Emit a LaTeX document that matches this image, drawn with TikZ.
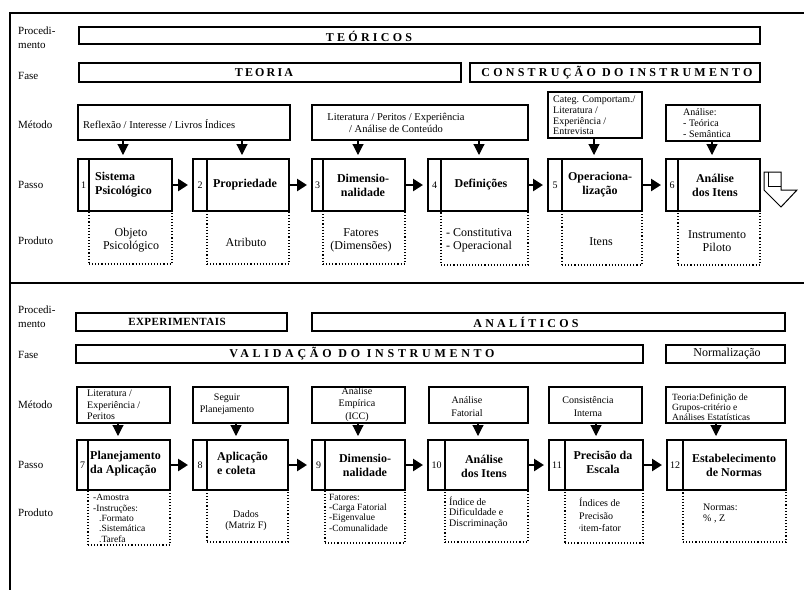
\documentclass[tikz,border=0pt]{standalone}
\usepackage{fontspec}
\setmainfont{Liberation Serif}
\newfontfamily\capsfont[LetterSpace=27]{Liberation Serif}
\newfontfamily\expfont[LetterSpace=4]{Liberation Serif}
\usetikzlibrary{arrows.meta}
\newcommand\bx[7]{\node[#6, anchor=north west, minimum width={(#4-(#2))*1pt}, minimum height={(#5-(#3))*1pt}] (#1) at (#2,#3) {#7};}
\begin{document}
\begin{tikzpicture}[x=1pt,y=-1pt,
  sbox/.style={draw, line width=1.1pt, inner sep=0pt, outer sep=0pt},
  dbox/.style={draw, dotted, line width=1.1pt, inner sep=0pt, outer sep=0pt},
  frame/.style={line width=1.2pt},
  lbl/.style={font=\fontsize{11}{14}\selectfont, align=left, anchor=west, inner sep=0pt},
  mtxt/.style={font=\fontsize{10}{10.8}\selectfont, inner sep=0pt, align=center},
  ptxt/.style={font=\fontsize{12}{14}\selectfont\bfseries, inner sep=0pt, align=center},
  prtxt/.style={font=\fontsize{12}{13}\selectfont, inner sep=0pt, align=center},
  smtxt/.style={font=\fontsize{9.5}{10.3}\selectfont, inner sep=0pt, align=left},
  numtxt/.style={font=\fontsize{10}{12}\selectfont, inner sep=0pt},
  caps/.style={font=\capsfont\fontsize{12}{14}\selectfont\bfseries, inner sep=0pt},
  downarr/.style={-{Triangle[width=11pt,length=11pt]}, line width=1.1pt, shorten >=4pt},
  rightarr/.style={-{Triangle[width=12pt,length=10pt]}, line width=2.5pt, shorten >=5pt}
]
\useasboundingbox (0,0) rectangle (804,590);
\fill[white] (0,0) rectangle (804,590);

% frame
\coordinate (ftl) at (10,13);
\coordinate (ftr) at (804,13);
\coordinate (fbl) at (10,590);
\coordinate (dl) at (10,283);
\coordinate (dr) at (804,283);
\draw[frame] (ftr) -- (ftl) -- (fbl);
\draw[line width=1.6pt] (dl) -- (dr);

% row labels
\node[lbl] (L1) at (18,38) {Procedi-\\mento};
\node[lbl] (L2) at (18,76) {Fase};
\node[lbl] (L3) at (18,125) {Método};
\node[lbl] (L4) at (18,185) {Passo};
\node[lbl] (L5) at (18,241) {Produto};
\node[lbl] (L6) at (18,317) {Procedi-\\mento};
\node[lbl] (L7) at (18,355) {Fase};
\node[lbl] (L8) at (18,405) {Método};
\node[lbl] (L9) at (18,465) {Passo};
\node[lbl] (L10) at (18,513) {Produto};

% ---------------- top section ----------------
\bx{proc1}{79}{27}{760}{44}{sbox}{}
\node[caps] (tproc1) at (369,36) {TEÓRICOS};
\bx{fase1}{79}{63}{461}{82}{sbox}{}
\node[caps, font=\capsfont\fontsize{12}{14}\selectfont\bfseries\addfontfeature{LetterSpace=18}] (tfase1) at (264,72.5) {TEORIA};
\bx{fase2}{470}{63}{760}{82}{sbox}{}
\node[caps] (tfase2) at (617,72.5) {CONSTRUÇÃO DO INSTRUMENTO};

\bx{m1}{78}{105}{290}{140}{sbox}{}
\bx{m2}{312}{105}{528}{140}{sbox}{}
\bx{m3}{548}{92}{642}{138}{sbox}{}
\bx{m4}{666}{105}{760}{141}{sbox}{}
\node[mtxt, anchor=west, font=\fontsize{10.5}{12}\selectfont] (mt1) at (83,124) {Reflexão / Interesse / Livros Índices};
\node[mtxt, font=\fontsize{10.5}{12}\selectfont] (mt2) at (396,123) {Literatura / Peritos / Experiência\\/ Análise de Conteúdo};
\node[mtxt, align=left, anchor=west] (mt3) at (553,115.5) {Categ. Comportam./\\Literatura /\\Experiência /\\Entrevista};
\node[mtxt, align=left, anchor=west] (mt4) at (683,123) {Análise:\\- Teórica\\- Semântica};

% produto top
\bx{r1}{89}{211}{172}{264}{dbox}{}
\bx{r2}{207}{211}{289}{264}{dbox}{}
\bx{r3}{323}{211}{405}{264}{dbox}{}
\bx{r4}{441}{211}{528}{265}{dbox}{}
\bx{r5}{562}{211}{642}{265}{dbox}{}
\bx{r6}{678}{211}{760}{265}{dbox}{}

% passo top
\bx{p1n}{78}{159}{89}{211}{sbox}{}
\bx{p1}{89}{159}{172}{211}{sbox}{}
\bx{p2n}{193}{159}{207}{211}{sbox}{}
\bx{p2}{207}{159}{289}{211}{sbox}{}
\bx{p3n}{312}{159}{323}{211}{sbox}{}
\bx{p3}{323}{159}{405}{211}{sbox}{}
\bx{p4n}{428}{159}{441}{211}{sbox}{}
\bx{p4}{441}{159}{528}{211}{sbox}{}
\bx{p5n}{548}{159}{562}{211}{sbox}{}
\bx{p5}{562}{159}{642}{211}{sbox}{}
\bx{p6n}{666}{159}{678}{211}{sbox}{}
\bx{p6}{678}{159}{760}{211}{sbox}{}

\node[numtxt] at (p1n) {1};
\node[numtxt] at (p2n) {2};
\node[numtxt] at (p3n) {3};
\node[numtxt] at (p4n) {4};
\node[numtxt] at (p5n) {5};
\node[numtxt] at (p6n) {6};

\node[ptxt, align=left, anchor=west] (pt1) at (95,185) {Sistema\\Psicológico};
\node[ptxt] (pt2) at (245,185) {Propriedade};
\node[ptxt] (pt3) at (363,185) {Dimensio-\\nalidade};
\node[ptxt] (pt4) at (481,185) {Definições};
\node[ptxt] (pt5) at (600,185) {Operaciona-\\lização};
\node[ptxt] (pt6) at (715,185) {Análise\\dos Itens};

\node[prtxt] (rt1) at (131,240.5) {Objeto\\Psicológico};
\node[prtxt] (rt2) at (246,242) {Atributo};
\node[prtxt] (rt3) at (361,240.5) {Fatores\\(Dimensões)};
\node[prtxt, align=left, anchor=west] (rt4) at (446,240.5) {- Constitutiva\\- Operacional};
\node[prtxt] (rt5) at (601,242) {Itens};
\node[prtxt] (rt6) at (717,241.5) {Instrumento\\Piloto};

% arrows top
\draw[downarr] (123,0 |- m1.south) -- (123,0 |- p1.north);
\draw[downarr] (242,0 |- m1.south) -- (242,0 |- p2.north);
\draw[downarr] (358,0 |- m2.south) -- (358,0 |- p3.north);
\draw[downarr] (479,0 |- m2.south) -- (479,0 |- p4.north);
\draw[downarr] (594,0 |- m3.south) -- (594,0 |- p5.north);
\draw[downarr] (712,0 |- m4.south) -- (712,0 |- p6.north);
\draw[rightarr] (p1.east) -- (p2n.west);
\draw[rightarr] (p2.east) -- (p3n.west);
\draw[rightarr] (p3.east) -- (p4n.west);
\draw[rightarr] (p4.east) -- (p5n.west);
\draw[rightarr] (p5.east) -- (p6n.west);

% hollow turn arrow
\draw[line width=1pt, line join=miter, fill=white] (764,172) -- (781,172) -- (781,190) -- (797,190) -- (781,207) -- (764,190) -- cycle;
\draw[line width=0.9pt] (768.5,172) -- (768.5,186) -- (781,186);

% ---------------- bottom section ----------------
\bx{proc2a}{76}{313}{287}{331}{sbox}{}
\node[inner sep=0pt, font=\expfont\fontsize{11}{12}\selectfont\bfseries] (tproc2a) at (177,322) {EXPERIMENTAIS};
\bx{proc2b}{312}{313}{785}{331}{sbox}{}
\node[caps] (tproc2b) at (526,322) {ANALÍTICOS};
\bx{fase3}{76}{345}{643}{363}{sbox}{}
\node[caps, font=\capsfont\fontsize{12}{14}\selectfont\bfseries\addfontfeature{LetterSpace=31}] (tfase3) at (362,354) {VALIDAÇÃO DO INSTRUMENTO};
\bx{fase4}{666}{345}{785}{363}{sbox}{}
\node[inner sep=0pt, font=\fontsize{12}{13}\selectfont] (tfase4) at (727,354) {Normalização};

\bx{m7}{77}{387}{170}{423}{sbox}{}
\bx{m8}{193}{387}{288}{423}{sbox}{}
\bx{m9}{312}{387}{405}{423}{sbox}{}
\bx{m10}{429}{387}{528}{423}{sbox}{}
\bx{m11}{549}{387}{642}{423}{sbox}{}
\bx{m12}{666}{387}{785}{423}{sbox}{}
\node[mtxt, align=left, anchor=west, font=\fontsize{10}{11.5}\selectfont] (mt7) at (87,405) {Literatura /\\Experiência /\\Peritos};
\node[mtxt, font=\fontsize{10}{12}\selectfont] (mt8) at (227,404) {Seguir\\Planejamento};
\node[mtxt, font=\fontsize{10}{12.5}\selectfont] (mt9) at (357,404.5) {Análise\\Empírica\\(ICC)};
\node[mtxt, font=\fontsize{10}{12.5}\selectfont] (mt10) at (467,406.5) {Análise\\Fatorial};
\node[mtxt, font=\fontsize{10}{12.5}\selectfont] (mt11) at (588,406.5) {Consistência\\Interna};
\node[mtxt, align=left, anchor=west, font=\fontsize{9.5}{10.3}\selectfont] (mt12) at (672,407) {Teoria:Definição de\\Grupos-critério e\\Análises Estatísticas};

% produto bottom
\bx{r7}{88}{490}{170}{545}{dbox}{}
\bx{r8}{207}{490}{288}{542}{dbox}{}
\bx{r9}{325}{490}{405}{543}{dbox}{}
\bx{r10}{445}{490}{528}{542}{dbox}{}
\bx{r11}{565}{490}{643}{543}{dbox}{}
\bx{r12}{683}{490}{786}{542}{dbox}{}

% passo bottom
\bx{p7n}{77}{440}{88}{490}{sbox}{}
\bx{p7}{88}{440}{170}{490}{sbox}{}
\bx{p8n}{193}{440}{207}{490}{sbox}{}
\bx{p8}{207}{440}{288}{490}{sbox}{}
\bx{p9n}{312}{440}{325}{490}{sbox}{}
\bx{p9}{325}{440}{405}{490}{sbox}{}
\bx{p10n}{428}{440}{445}{490}{sbox}{}
\bx{p10}{445}{440}{528}{490}{sbox}{}
\bx{p11n}{549}{440}{565}{490}{sbox}{}
\bx{p11}{565}{440}{643}{490}{sbox}{}
\bx{p12n}{667}{440}{683}{490}{sbox}{}
\bx{p12}{683}{440}{786}{490}{sbox}{}

\node[numtxt] at (p7n) {7};
\node[numtxt] at (p8n) {8};
\node[numtxt] at (p9n) {9};
\node[numtxt] at (p10n) {10};
\node[numtxt] at (p11n) {11};
\node[numtxt] at (p12n) {12};

\node[ptxt, align=left, anchor=west] (pt7) at (90,463.5) {Planejamento\\da Aplicação};
\node[ptxt, align=left, anchor=west] (pt8) at (217,463.5) {Aplicação\\e coleta};
\node[ptxt] (pt9) at (365,465.5) {Dimensio-\\nalidade};
\node[ptxt] (pt10) at (484,466) {Análise\\dos Itens};
\node[ptxt] (pt11) at (603,462.5) {Precisão da\\Escala};
\node[ptxt] (pt12) at (734,465.5) {Estabelecimento\\de Normas};

\node[smtxt, anchor=west] (rt7) at (93,518.5) {-Amostra\\-Instruções:\\\hspace*{6pt}.Formato\\\hspace*{6pt}.Sistemática\\\hspace*{6pt}.Tarefa};
\node[smtxt, align=center, font=\fontsize{10}{11}\selectfont] (rt8) at (246,520.5) {Dados\\(Matriz F)};
\node[smtxt, anchor=west] (rt9) at (329,512.5) {Fatores:\\-Carga Fatorial\\-Eigenvalue\\-Comunalidade};
\node[smtxt, anchor=west, font=\fontsize{10}{10.5}\selectfont] (rt10) at (449,512.5) {Índice de\\Dificuldade e\\Discriminação};
\node[smtxt, anchor=west, font=\fontsize{10}{12.5}\selectfont] (rt11) at (579,515) {Índices de\\Precisão\\\raisebox{2pt}{\fontsize{5}{6}\selectfont r}item-fator};
\node[smtxt, anchor=west, font=\fontsize{10}{11}\selectfont] (rt12) at (703,513.5) {Normas:\\\% , Z};

% arrows bottom
\draw[downarr] (118,0 |- m7.south) -- (118,0 |- p7.north);
\draw[downarr] (236,0 |- m8.south) -- (236,0 |- p8.north);
\draw[downarr] (358,0 |- m9.south) -- (358,0 |- p9.north);
\draw[downarr] (478,0 |- m10.south) -- (478,0 |- p10.north);
\draw[downarr] (596,0 |- m11.south) -- (596,0 |- p11.north);
\draw[downarr] (716,0 |- m12.south) -- (716,0 |- p12.north);
\draw[rightarr] (p7.east) -- (p8n.west);
\draw[rightarr] (p8.east) -- (p9n.west);
\draw[rightarr] (p9.east) -- (p10n.west);
\draw[rightarr] (p10.east) -- (p11n.west);
\draw[rightarr] (p11.east) -- (p12n.west);
\end{tikzpicture}
\end{document}
